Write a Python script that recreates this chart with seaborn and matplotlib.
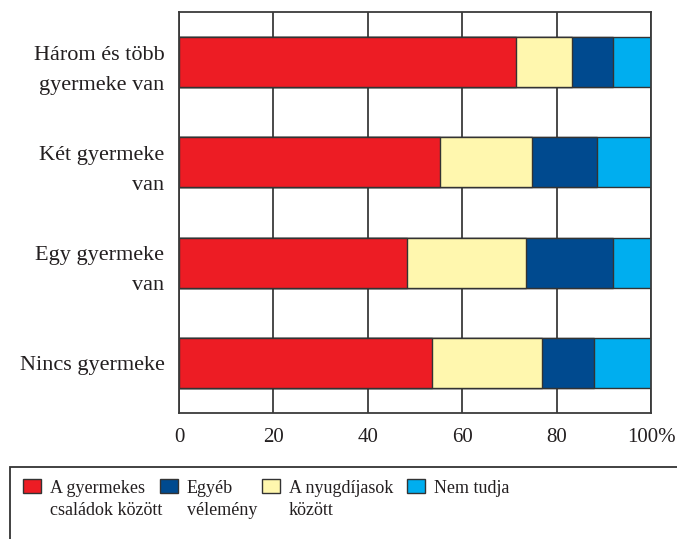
import pandas as pd
import numpy as np
import matplotlib
matplotlib.use("Agg")
import matplotlib.pyplot as plt
from matplotlib.patches import Rectangle
import seaborn as sns

# data (percent)
categories = ["Három és több\ngyermeke van", "Két gyermeke\nvan",
              "Egy gyermeke\nvan", "Nincs gyermeke"]
gyermekes = [71.5, 55.2, 48.4, 53.5]    # A gyermekes családok között
nyugdijas = [11.7, 19.5, 25.1, 23.5]    # A nyugdíjasok között
egyeb = [8.8, 13.8, 18.5, 11.0]         # Egyéb vélemény
nem_tudja = [8.0, 11.5, 8.0, 12.0]      # Nem tudja

xticks = [0, 20, 40, 60, 80, 100]
xticklabels = ["0", "20", "40", "60", "80", "100%"]

c_red = "#ED1C24"
c_yellow = "#FFF7AE"
c_navy = "#004A8F"
c_cyan = "#00AEEF"
c_text = "#231F20"

sns.set_style("white")
plt.rcParams["font.family"] = ["Liberation Serif", "DejaVu Serif"]

df = pd.DataFrame({"cat": categories, "red": gyermekes, "yellow": nyugdijas,
                   "navy": egyeb, "cyan": nem_tudja})
df["c1"] = df["red"]
df["c2"] = df["c1"] + df["yellow"]
df["c3"] = df["c2"] + df["navy"]
df["c4"] = df["c3"] + df["cyan"]

fig = plt.figure(figsize=(6.77, 5.39), dpi=100)
ax = fig.add_axes([179 / 677, 1 - 413 / 539, 472 / 677, 401 / 539])

# stacked bars: draw cumulative totals from the longest down
for col, color in [("c4", c_cyan), ("c3", c_navy), ("c2", c_yellow), ("c1", c_red)]:
    sns.barplot(data=df, x=col, y="cat", color=color, width=0.5, orient="h",
                edgecolor="#333333", linewidth=1.0, saturation=1, ax=ax)

ax.set_xlim(0, 100)
ax.set_ylim(3.5, -0.5)
ax.set_xlabel("")
ax.set_ylabel("")

ax.set_axisbelow(True)
ax.xaxis.grid(True, color="#3a3a3a", linewidth=1.3)
ax.yaxis.grid(False)

ax.set_xticks(xticks)
ax.set_xticklabels(xticklabels, fontsize=15, color=c_text)
ax.tick_params(axis="x", direction="out", length=5, width=1.2, color="#222222", pad=6)

# tick marks between the categories, labels centered on them
ax.set_yticks([-0.5, 0.5, 1.5, 2.5, 3.5])
ax.set_yticklabels([])
ax.set_yticks(range(len(categories)), minor=True)
ax.set_yticklabels(categories, minor=True, fontsize=16, color=c_text,
                   linespacing=1.8)
ax.tick_params(axis="y", which="major", direction="out", length=6.5, width=1.2, color="#222222")
ax.tick_params(axis="y", which="minor", length=0, pad=10.5)

for s in ax.spines.values():
    s.set_visible(True)
    s.set_color("#3a3a3a")
    s.set_linewidth(1.3)

# legend box, drawn by hand (frame runs off the figure edge)
fig.add_artist(Rectangle((10 / 677, -0.05), 1.0, 0.05 + (539 - 467) / 539,
                         transform=fig.transFigure, facecolor="white",
                         edgecolor="#333333", linewidth=1.3))
entries = [(c_red, "A gyermekes\ncsaládok között", 23),
           (c_navy, "Egyéb\nvélemény", 160),
           (c_yellow, "A nyugdíjasok\nközött", 262),
           (c_cyan, "Nem tudja", 407)]
for color, label, x0 in entries:
    fig.add_artist(Rectangle((x0 / 677, 1 - 493 / 539), 18 / 677, 14 / 539,
                             transform=fig.transFigure, facecolor=color,
                             edgecolor="#333333", linewidth=1.0))
    fig.text((x0 + 27) / 677, 1 - 480 / 539, label, ha="left", va="top",
             fontsize=13, color=c_text, linespacing=1.4)

fig.savefig("out.png", dpi=100)
